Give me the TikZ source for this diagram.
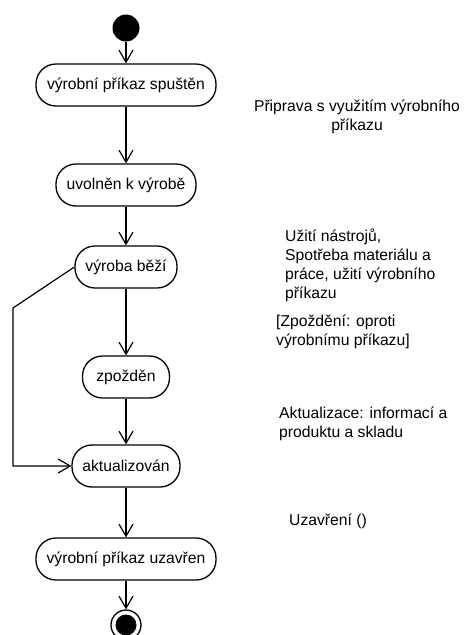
\documentclass[tikz,border=0pt]{standalone}
\usepackage{fontspec}
\setmainfont{Liberation Sans}
\usetikzlibrary{arrows.meta}
\begin{document}
\begin{tikzpicture}[x=1pt,y=-1pt,
  state/.style={draw, line width=1.3pt, rounded corners=20pt, minimum height=42pt,
    inner sep=0pt, font=\fontsize{15.7}{18}\selectfont},
  flow/.style={line width=1.2pt, -{Straight Barb[length=12pt,width=14pt,line width=1.2pt]}},
  note/.style={font=\fontsize{15.7}{18.8}\selectfont, inner sep=0pt, align=left, anchor=north west}
]
\useasboundingbox (0,0) rectangle (465,635);

% initial and final pseudo-states
\node[circle, fill, minimum size=27pt, inner sep=0pt] (start) at (126,28) {};
\node[circle, draw, line width=1.3pt, minimum size=30pt, inner sep=0pt] (end) at (126,625) {};
\node[circle, fill, minimum size=21pt, inner sep=0pt] (endcore) at (126,625) {};

% states
\node[state, minimum width=180pt] (n1) at (126,85)  {výrobní příkaz spuštěn};
\node[state, minimum width=140pt] (n2) at (126,185) {uvolněn k výrobě};
\node[state, minimum width=102pt] (n3) at (126,267) {výroba běží};
\node[state, minimum width=87pt]  (n4) at (126,377) {zpožděn};
\node[state, minimum width=108pt] (n5) at (126,466) {aktualizován};
\node[state, minimum width=180pt] (n6) at (126,559) {výrobní příkaz uzavřen};

% transitions
\draw[flow] (start) -- (n1);
\draw[flow] (n1) -- (n2);
\draw[flow] (n2) -- (n3);
\draw[flow] (n3) -- (n4);
\draw[flow] (n4) -- (n5);
\draw[flow] (n5) -- (n6);
\draw[flow] (n6) -- (end);

% bypass from running production straight to update
\coordinate (b1) at (13,308);
\coordinate (b2) at (13,466);
\draw[flow] (n3.west) -- (b1) -- (b2) -- (n5.west);

% activity descriptions
\node[note, align=center, anchor=north] (t1) at (357,100) {Připrava s využitím výrobního\\příkazu};
\node[note] (t2) at (285,229) {Užití nástrojů,\\Spotřeba materiálu a\\práce, užití výrobního\\příkazu};
\node[note] (t3) at (276,315) {[Zpoždění: oproti\\výrobnímu příkazu]};
\node[note] (t4) at (279,407) {Aktualizace: informací a\\produktu a skladu};
\node[note] (t5) at (289,514) {Uzavření ()};
\end{tikzpicture}
\end{document}
